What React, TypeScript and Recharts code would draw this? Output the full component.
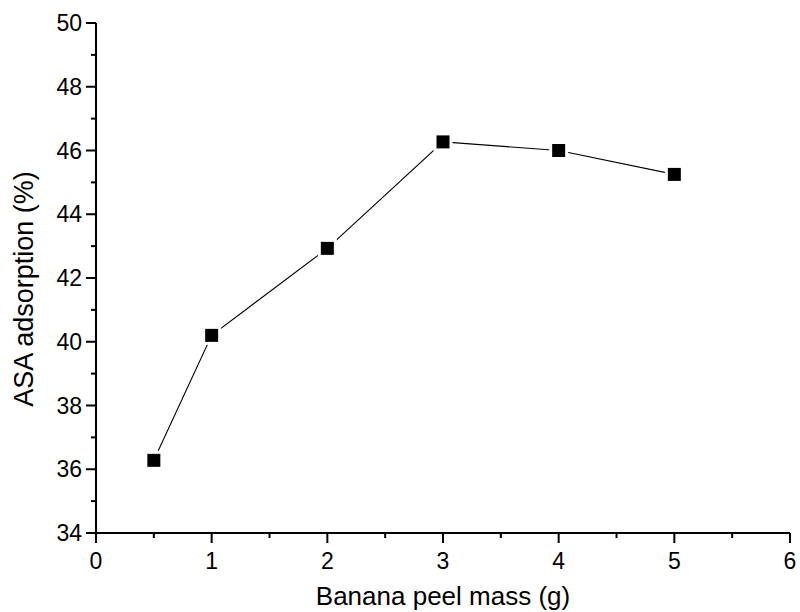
import { LineChart, Line, XAxis, YAxis } from "recharts"

// Banana peel mass (g) vs ASA adsorption (%)
const mass = [0.5, 1, 2, 3, 4, 5]
const adsorption = [36.28, 40.2, 42.93, 46.27, 46.0, 45.25]

const xTicks = [0, 0.5, 1, 1.5, 2, 2.5, 3, 3.5, 4, 4.5, 5, 5.5, 6]
const yTicks = [34, 35, 36, 37, 38, 39, 40, 41, 42, 43, 44, 45, 46, 47, 48, 49, 50]

const data = mass.map((m, i) => ({ mass: m, value: adsorption[i] }))

const FONT = "'Liberation Sans', Arial, sans-serif"

function YTick(props: any) {
  const { x, y, payload } = props
  const major = payload.value % 2 === 0
  return (
    <g>
      <line x1={x} x2={x - (major ? 10 : 5)} y1={y} y2={y} stroke="#000" strokeWidth={2} />
      {major && (
        <text x={x - 14} y={y} textAnchor="end" dominantBaseline="central" fontFamily={FONT} fontSize={23} fill="#000">
          {payload.value}
        </text>
      )}
    </g>
  )
}

function XTick(props: any) {
  const { x, y, payload } = props
  const major = Number.isInteger(payload.value)
  return (
    <g>
      <line x1={x} x2={x} y1={y} y2={y + (major ? 10 : 5)} stroke="#000" strokeWidth={2} />
      {major && (
        <text x={x} y={y + 36} textAnchor="middle" fontFamily={FONT} fontSize={23} fill="#000">
          {payload.value}
        </text>
      )}
    </g>
  )
}

function XTitle(props: any) {
  const { viewBox } = props
  const cx = viewBox.x + viewBox.width / 2
  return (
    <text x={cx} y={605} textAnchor="middle" fontFamily={FONT} fontSize={26} fill="#000">
      Banana peel mass (g)
    </text>
  )
}

function YTitle(props: any) {
  const { viewBox } = props
  const cy = viewBox.y + viewBox.height / 2 + 11
  return (
    <text x={33} y={cy} transform={`rotate(-90, 33, ${cy})`} textAnchor="middle" fontFamily={FONT} fontSize={27} fill="#000">
      ASA adsorption (%)
    </text>
  )
}

function SquareDot(props: any) {
  const { cx, cy, index } = props
  return <rect key={index} x={cx - 8} y={cy - 8} width={16} height={16} fill="#000" stroke="#fff" strokeWidth={3} />
}

export default function App() {
  return (
    <div style={{ position: "absolute", left: 0, top: 0, background: "#fff" }}>
      <LineChart width={800} height={612} data={data} margin={{ top: 23, right: 10, bottom: 0, left: 0 }}>
        <XAxis
          dataKey="mass"
          type="number"
          domain={[0, 6]}
          ticks={xTicks}
          interval={0}
          tickSize={0}
          tickMargin={0}
          tickLine={false}
          tick={<XTick />}
          height={79}
          axisLine={{ stroke: "#000", strokeWidth: 2 }}
          label={<XTitle />}
        />
        <YAxis
          type="number"
          domain={[34, 50]}
          ticks={yTicks}
          interval={0}
          tickSize={0}
          tickMargin={0}
          tickLine={false}
          tick={<YTick />}
          width={96}
          axisLine={{ stroke: "#000", strokeWidth: 2 }}
          label={<YTitle />}
        />
        <Line
          dataKey="value"
          type="linear"
          stroke="#000"
          strokeWidth={1.1}
          dot={<SquareDot />}
          activeDot={false}
          isAnimationActive={false}
        />
      </LineChart>
    </div>
  )
}
